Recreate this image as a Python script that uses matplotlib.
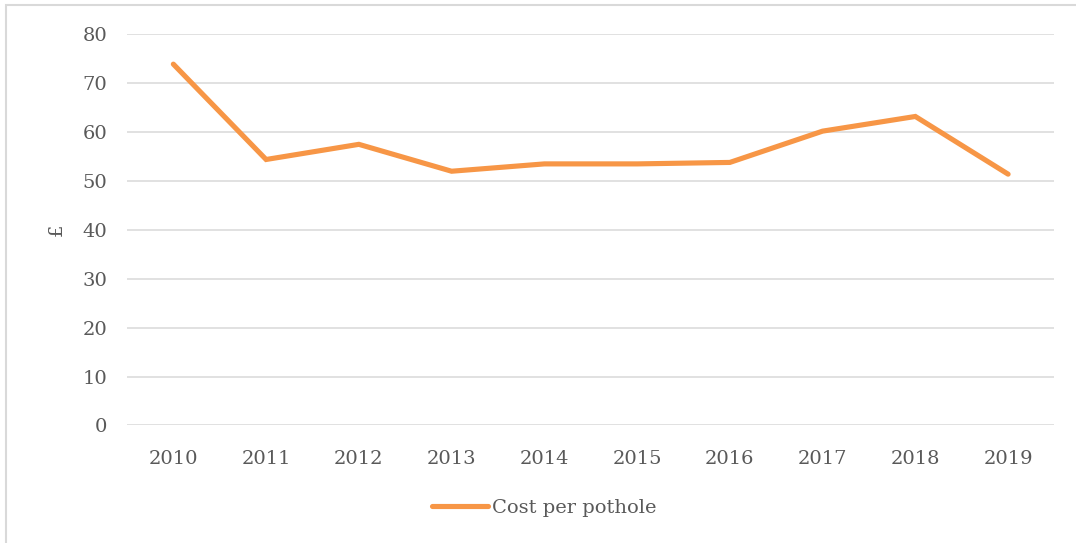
import matplotlib.pyplot as plt
from matplotlib.patches import Rectangle

years = ['2010', '2011', '2012', '2013', '2014', '2015', '2016', '2017', '2018', '2019']
cost = [73.9, 54.4, 57.5, 52.0, 53.5, 53.5, 53.8, 60.2, 63.2, 51.4]

plt.rcParams['font.family'] = ['DejaVu Serif']
text_col = '#595959'

fig = plt.figure(figsize=(10.76, 5.43), dpi=100)
ax = fig.add_axes([0.118, 0.2164, 0.862, 0.7204])

ax.plot(range(len(years)), cost, color='#F79646', linewidth=3.7,
        solid_capstyle='round', solid_joinstyle='miter', label='Cost per pothole')

ax.set_xlim(-0.5, len(years) - 0.5)
ax.set_ylim(0, 80)
ax.set_yticks(range(0, 81, 10))
ax.set_xticks(range(len(years)))
ax.set_xticklabels(years)
ax.grid(axis='y', color='#D9D9D9', linewidth=1.1)
ax.set_axisbelow(True)
for s in ax.spines.values():
    s.set_visible(False)
ax.tick_params(length=0, labelsize=14, labelcolor=text_col, pad=14)
ax.tick_params(axis='x', pad=18)
ax.set_ylabel('£', fontsize=14, color=text_col, labelpad=12)

fig.legend(loc='center', bbox_to_anchor=(0.506, 0.065), frameon=False,
           fontsize=14, labelcolor=text_col, handlelength=2.9, handletextpad=0.2)

# thin grey frame of the chart area (cropped on right/bottom)
fig.patches.append(Rectangle((0.0055, -0.05), 1.1, 1.04, transform=fig.transFigure,
                             fill=False, edgecolor='#D9D9D9', linewidth=1.5))

fig.savefig('out.png', dpi=100)
